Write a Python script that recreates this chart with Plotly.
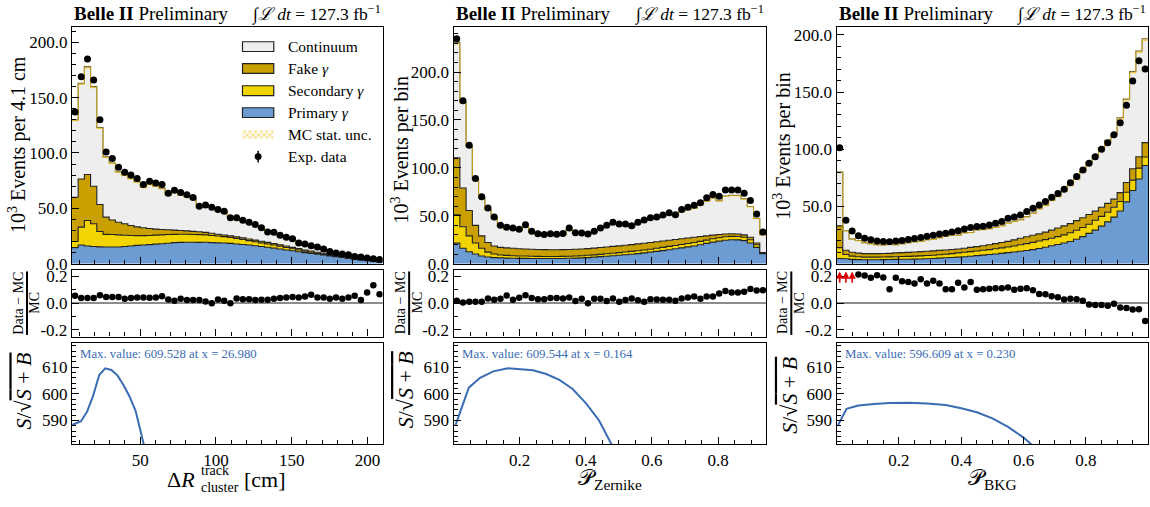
import numpy as np
import plotly.graph_objects as go

# ---------------------------------------------------------------------------
# Histogram contents, 10^3 events per bin (50 bins per variable)
# ---------------------------------------------------------------------------
# Delta R (track - cluster) [cm]
dr_range = [5.0, 210.0]
dr_primary = [14.5, 16.8, 16, 15.5, 15.2, 15, 15, 15, 15.5, 16,
              16.5, 16.8, 17.2, 17.6, 18, 18.5, 19, 19.2, 19.4, 19.4,
              19.2, 19.3, 19, 18.8, 18.6, 18.3, 17.8, 17.3, 16.8, 16.2,
              15.5, 14.8, 14, 13.2, 12.4, 11.6, 10.8, 10, 9.2, 8.5,
              7.8, 7.0, 6.2, 5.5, 4.8, 4.1, 3.4, 2.8, 2.2, 1.6]
dr_secondary = [5.5, 16.2, 23, 20.5, 13.8, 11.5, 11.3, 11, 10.1, 9.4,
                8.8, 8.5, 8.3, 8.2, 8, 7.8, 7.5, 7.4, 7.2, 7,
                7, 6.7, 6.5, 6.2, 5.8, 5.3, 4.9, 4.5, 4, 3.6,
                3.3, 3, 2.8, 2.5, 2.2, 1.9, 1.6, 1.3, 1.1, 0.8,
                0.6, 0.5, 0.4, 0.3, 0.2, 0.2, 0.2, 0.1, 0.1, 0.1]
dr_fake = [40, 43.5, 41.5, 34, 24.5, 15.5, 13.2, 11.4, 10.4, 9.1,
           7.9, 7.2, 6.3, 5.4, 4.8, 4.3, 3.8, 3.4, 3, 2.8,
           2.6, 2.3, 2, 1.6, 1.5, 1.5, 1.5, 1.5, 1.5, 1.5,
           1.5, 1.4, 1.4, 1.3, 1.3, 1.2, 1.2, 1.1, 1.1, 1.0,
           1.0, 0.9, 0.9, 0.8, 0.8, 0.7, 0.7, 0.6, 0.6, 0.5]
dr_continuum = [70, 86.5, 97.5, 90, 69.5, 54.5, 51.5, 45.6, 44, 42.5,
                40.8, 36.5, 39.9, 38.8, 37.2, 31.4, 34.9, 32.2, 31.3, 29.3,
                21.9, 24.1, 23.6, 21, 20.7, 16.5, 15.9, 14.8, 14, 13.2,
                11.3, 8.7, 9.2, 7.7, 7.1, 6.7, 4.3, 4.5, 3.9, 4.1,
                3.4, 2.2, 1.8, 1.9, 1.9, 1.2, 1.5, 1.1, 1.0, 1.4]
dr_data = [137, 169, 185, 166, 130, 101, 95, 87, 82.5, 80,
           77, 71.6, 74.5, 72.8, 71.6, 63.6, 66.3, 64.2, 62.2, 59.8,
           51.8, 53, 51, 48.9, 47.4, 41.5, 41.5, 39.2, 37.4, 35.3,
           32.4, 28.6, 28.3, 25.6, 23.9, 22.4, 18.6, 17.7, 16.2, 15,
           13.3, 10.9, 9.7, 8.8, 8, 6.5, 5.9, 5, 4.4, 3.8]
dr_ratio = [0.054, 0.037, 0.037, 0.037, 0.059, 0.046, 0.046, 0.046, 0.032, 0.037,
            0.041, 0.041, 0.039, 0.041, 0.051, 0.027, 0.017, 0.032, 0.022, 0.022,
            0.022, 0.012, -0.002, 0.027, 0.017, -0.002, 0.034, 0.029, 0.029, 0.022,
            0.024, 0.024, 0.032, 0.037, 0.041, 0.046, 0.041, 0.049, 0.061, 0.041,
            0.041, 0.032, 0.041, 0.032, 0.041, 0.054, 0.022, 0.078, 0.132, 0.066]
dr_fom_x = [5.0, 11.0, 15.0, 19.0, 23.0, 26.98, 31.0, 35.0, 39.0, 43.0, 47.0, 51.0, 55.0]
dr_fom_y = [588.3, 589.7, 593.3, 599.3, 607.0, 609.528, 608.9, 606.9, 603.3, 599.0, 593.6, 584.8, 575.0]

# Zernike-moment MVA output
zern_range = [0.0, 0.945]
zern_primary = [21.4, 16, 12.5, 10, 8, 7, 6.3, 6, 5.8, 5.6,
                5.5, 5.5, 5.4, 5.3, 5.3, 5.3, 5.3, 5.4, 5.6, 5.8,
                6, 6.3, 6.8, 7.3, 7.8, 8.3, 8.8, 9.3, 9.8, 10.5,
                11.2, 12, 12.8, 13.6, 14.5, 15.5, 16.5, 17.5, 18.5, 19.8,
                21.2, 22.5, 23.5, 24.5, 25, 24.8, 24, 21.5, 17, 10.5]
zern_secondary = [29.6, 22.5, 16.5, 11.5, 8, 5, 3.7, 3, 2.8, 2.7,
                  2.5, 2.5, 2.4, 2.3, 2.2, 2.2, 2.2, 2.2, 2.2, 2.2,
                  2.3, 2.4, 2.4, 2.4, 2.5, 2.6, 2.7, 2.8, 3.0, 3.0,
                  3.1, 3.1, 3.2, 3.4, 3.5, 3.5, 3.5, 3.5, 3.5, 3.4,
                  3.4, 3.5, 3.5, 3.5, 3.5, 3.5, 3.5, 3.5, 2.7, 0.5]
zern_fake = [59.5, 40.5, 26.5, 18.5, 13, 10, 8.5, 8, 7.9, 7.7,
             7.5, 7.3, 7.2, 7.2, 7.1, 7.0, 7.0, 7.0, 7.0, 7.0,
             7.0, 7.0, 7.0, 7.1, 7.1, 7.1, 7.1, 7.1, 7.1, 7.1,
             7.0, 6.9, 6.8, 6.6, 6.4, 6.2, 6.0, 5.8, 5.5, 5.1,
             4.4, 3.8, 3.4, 3.0, 2.7, 2.7, 2.5, 2.5, 1.8, 0.5]
zern_continuum = [120.3, 89.5, 66.8, 47.9, 40, 34.3, 29, 21.9, 19.6, 20.2,
                  19.1, 22.9, 17.5, 15.6, 14.8, 15.7, 15, 16, 20.8, 16.8,
                  15.7, 15.4, 16.5, 19.1, 22.1, 23.8, 22.5, 21.4, 18.3, 21.8,
                  23.8, 24.6, 24.5, 25.9, 27.5, 24.9, 28.6, 29.7, 30.6, 33.3,
                  36.5, 38.9, 35.3, 39.6, 40.1, 40.3, 37.7, 32.2, 25.8, 18.6]
zern_data = [234.7, 170, 123.5, 88.8, 69.7, 58.2, 48.6, 40.1, 38.1, 37.1,
             36, 40.5, 33.7, 31.3, 30.3, 31.3, 30.6, 31.6, 37.1, 32.3,
             32, 31, 33.7, 37.1, 40.1, 43.2, 41.5, 41.5, 39.5, 43.2,
             45.6, 48, 48.6, 50.7, 53.1, 51, 56.5, 58.8, 60.9, 63.6,
             68.7, 72.1, 70.4, 76.9, 76.9, 76.9, 73.5, 66, 51.7, 33]
zern_ratio = [0.017, 0.005, 0.01, 0.01, 0.01, 0.034, 0.024, 0.032, 0.056, 0.024,
              0.039, 0.059, 0.037, 0.029, 0.029, 0.037, 0.037, 0.034, 0.041, 0.015,
              0.032, -0.002, 0.032, 0.032, 0.015, 0.034, 0.01, 0.022, 0.034, 0.02,
              0.01, 0.029, 0.027, 0.024, 0.024, 0.017, 0.034, 0.041, 0.049, 0.032,
              0.049, 0.049, 0.071, 0.09, 0.078, 0.078, 0.085, 0.105, 0.093, 0.095]
zern_fom_x = [0.005, 0.046, 0.08, 0.12, 0.164, 0.2, 0.24, 0.28, 0.32, 0.36, 0.40, 0.44, 0.48]
zern_fom_y = [588.0, 602.3, 606.0, 608.4, 609.544, 609.3, 608.8, 607.4, 605.2, 601.8, 596.5, 590.0, 580.5]

# Background-classifier output
bkg_range = [0.0, 1.0]
bkg_primary = [4.5, 4.3, 3.7, 3.5, 3.4, 3.4, 3.4, 3.5, 3.6, 3.7,
               3.8, 3.9, 4.0, 4.1, 4.3, 4.5, 4.8, 5.1, 5.4, 5.7,
               6.1, 6.5, 7.0, 7.5, 8.0, 8.5, 9.0, 9.6, 10.2, 10.8,
               11.5, 12.3, 13.2, 14.3, 15.7, 16.8, 18.0, 19.4, 21.4, 23.6,
               26.5, 29.3, 32.8, 36.5, 40.7, 46, 54, 64, 74, 85.8]
bkg_secondary = [9.5, 3.7, 2.9, 2.5, 2.3, 2.3, 2.3, 2.3, 2.3, 2.3,
                 2.4, 2.5, 2.6, 2.7, 2.8, 2.9, 3.0, 3.1, 3.4, 3.7,
                 3.9, 4.0, 4.1, 4.2, 4.3, 4.5, 4.8, 5.0, 5.3, 5.7,
                 6.0, 6.3, 6.6, 6.7, 6.5, 6.8, 7.2, 7.6, 7.8, 8.0,
                 8.0, 8.6, 8.5, 8.5, 8.6, 8.4, 8.5, 9, 9.5, 7.5]
bkg_fake = [19, 3.7, 3.4, 3.2, 3.1, 3.1, 3.1, 3.1, 3.1, 3.4,
            3.4, 3.5, 3.6, 3.7, 3.7, 3.8, 3.8, 3.8, 3.6, 3.4,
            3.5, 3.7, 3.8, 4.0, 4.2, 4.5, 4.7, 4.9, 5.3, 5.7,
            6.0, 6.2, 6.2, 6.6, 7.1, 7.6, 7.8, 8.0, 8.4, 8.6,
            8.5, 8.0, 8.0, 7.7, 7.1, 7.7, 8.5, 10, 10, 12.5]
bkg_continuum = [47, 17.1, 11.7, 11, 9.6, 8.7, 7.7, 7.4, 8.3, 7.2,
                 7.8, 8.4, 8.9, 8.9, 10.1, 10.1, 11, 12, 12.6, 12.2,
                 13.6, 13.1, 14.6, 14.1, 14.1, 14.3, 14.7, 16, 16.2, 16.2,
                 17.6, 19.4, 22, 23.4, 26, 27.5, 30.3, 33.5, 36.4, 40.4,
                 45.6, 48.9, 52.2, 55.2, 57, 65.5, 72.9, 85, 92.5, 90.8]
bkg_data = [101.4, 37.9, 28.5, 24.5, 22.2, 20.8, 19.9, 19.4, 19.1, 19.7,
            20.2, 21.1, 21.9, 22.8, 23.9, 24.8, 25.9, 26.5, 27.6, 28.8,
            30.2, 31.6, 32.5, 32.8, 33.9, 35.3, 36.8, 39.6, 40.7, 42.5,
            45.6, 48.4, 51.3, 54.4, 58.1, 61.3, 65, 70.7, 76.1, 82,
            87.7, 93.4, 100, 105.7, 112.8, 123.3, 138.6, 159.8, 177.4, 170.3]
bkg_ratio = [0.27, 0.32, 0.31, 0.212, 0.205, 0.188, 0.207, 0.19, 0.102, 0.188,
             0.163, 0.156, 0.146, 0.178, 0.146, 0.166, 0.146, 0.102, 0.102, 0.151,
             0.115, 0.156, 0.1, 0.102, 0.107, 0.11, 0.11, 0.115, 0.1, 0.107,
             0.11, 0.095, 0.068, 0.066, 0.051, 0.044, 0.027, 0.032, 0.029, 0.017,
             -0.01, -0.015, -0.015, -0.02, -0.005, -0.034, -0.037, -0.049, -0.046, -0.134]
bkg_fom_x = [0.005, 0.032, 0.07, 0.12, 0.17, 0.23, 0.29, 0.35, 0.40, 0.45, 0.50, 0.55, 0.60, 0.64]
bkg_fom_y = [588.3, 594.4, 595.6, 596.2, 596.5, 596.609, 596.4, 595.8, 594.6, 593.1, 590.8, 587.6, 583.6, 579.5]

mc_rel_unc = 0.006          # relative MC statistical uncertainty band
lumi_text = "127.3"

# ---------------------------------------------------------------------------
# Styling
# ---------------------------------------------------------------------------
W, H = 1150, 507
FONT = "Liberation Serif"
C_CONT = "#eeeeee"
C_FAKE = "#c9a000"
C_SEC = "#f2d500"
C_PRIM = "#6d9cd2"
C_EDGE = "#222222"
C_UNC = "#e8b800"
C_FOM = "#3a6cb4"


def fx(px):
    return px / W


def fy(py):
    return 1 - py / H


# pixel geometry of the three columns and three rows
cols_px = [(72, 383), (454, 766.7), (837.3, 1149.3)]
rows_px = {"main": (26, 268), "ratio": (274, 342.7), "fom": (349.3, 452.7)}

panels = [
    dict(rng=dr_range, prim=dr_primary, sec=dr_secondary, fake=dr_fake, cont=dr_continuum,
         data=dr_data, ratio=dr_ratio, fx=dr_fom_x, fy=dr_fom_y, ymax=213.5,
         xt=dict(tickvals=[50, 100, 150, 200], minor=10),
         ylab="10<sup>3</sup> Events per 4.1 cm"),
    dict(rng=zern_range, prim=zern_primary, sec=zern_secondary, fake=zern_fake, cont=zern_continuum,
         data=zern_data, ratio=zern_ratio, fx=zern_fom_x, fy=zern_fom_y, ymax=246.6,
         xt=dict(tickvals=[0.2, 0.4, 0.6, 0.8], minor=0.05),
         ylab="10<sup>3</sup> Events per bin"),
    dict(rng=bkg_range, prim=bkg_primary, sec=bkg_secondary, fake=bkg_fake, cont=bkg_continuum,
         data=bkg_data, ratio=bkg_ratio, fx=bkg_fom_x, fy=bkg_fom_y, ymax=206.6,
         xt=dict(tickvals=[0.2, 0.4, 0.6, 0.8], minor=0.05),
         ylab="10<sup>3</sup> Events per bin"),
]

RATIO_RANGE = [-0.25, 0.25]
FOM_RANGE = [581.2, 619.0]

fig = go.Figure()
layout = {}
annotations = []
shapes = []

axis_common = dict(showline=True, mirror=True, linecolor="black", linewidth=1.3,
                   ticks="inside", ticklen=7, tickwidth=1.2, tickcolor="black",
                   showgrid=False, zeroline=False,
                   tickfont=dict(family=FONT, size=17, color="black"))


def ax_names(idx):
    sfx = "" if idx == 1 else str(idx)
    return "xaxis" + sfx, "yaxis" + sfx, "x" + sfx, "y" + sfx


for p, P in enumerate(panels):
    lo, hi = P["rng"]
    nb = len(P["data"])
    edges = np.linspace(lo, hi, nb + 1)
    centers = 0.5 * (edges[1:] + edges[:-1])
    x0p, x1p = cols_px[p]
    xdom = [fx(x0p), fx(x1p)]

    prim = np.array(P["prim"], float)
    sec = np.array(P["sec"], float)
    fake = np.array(P["fake"], float)
    cont = np.array(P["cont"], float)
    data = np.array(P["data"], float)
    ratio = np.array(P["ratio"], float)
    total = prim + sec + fake + cont
    data_err = np.sqrt(data * 1000.0) / 1000.0

    for r, row in enumerate(["main", "ratio", "fom"]):
        idx = 3 * p + r + 1
        xa, ya, xr, yr = ax_names(idx)
        t, b = rows_px[row]
        xaxis = dict(axis_common, domain=xdom, range=[lo, hi], anchor=yr,
                     tickvals=P["xt"]["tickvals"],
                     minor=dict(ticks="inside", ticklen=4, tickwidth=1, tickcolor="black",
                                dtick=P["xt"]["minor"], tick0=0),
                     showticklabels=(row == "fom"))
        xaxis["tickformat"] = "d" if p == 0 else ".1f"
        yaxis = dict(axis_common, domain=[fy(b), fy(t)], anchor=xr)
        if row == "main":
            yaxis.update(range=[0, P["ymax"]], tickvals=[0, 50, 100, 150, 200],
                         tickformat=".1f",
                         minor=dict(ticks="inside", ticklen=4, tickwidth=1, tickcolor="black",
                                    dtick=10, tick0=0))
        elif row == "ratio":
            yaxis.update(range=RATIO_RANGE, tickvals=[-0.2, 0.0, 0.2],
                         ticktext=["-0.2", "0.0", "0.2"],
                         minor=dict(ticks="inside", ticklen=4, tickwidth=1, tickcolor="black",
                                    dtick=0.1, tick0=0))
        else:
            yaxis.update(range=FOM_RANGE, tickvals=[590, 600, 610],
                         minor=dict(ticks="inside", ticklen=4, tickwidth=1, tickcolor="black",
                                    dtick=2, tick0=0))
        layout[xa] = xaxis
        layout[ya] = yaxis

    # ---- main panel: stacked step histograms ----
    _, _, xr, yr = ax_names(3 * p + 1)
    xs = list(edges)
    cum = np.zeros(nb)
    for k, (comp, col) in enumerate([(prim, C_PRIM), (sec, C_SEC), (fake, C_FAKE), (cont, C_CONT)]):
        cum = cum + comp
        ys = list(cum) + [cum[-1]]
        fig.add_trace(go.Scatter(
            x=xs, y=ys, mode="lines",
            line=dict(shape="hv", color=C_EDGE if k < 3 else "#555555", width=1.1),
            fill="tozeroy" if k == 0 else "tonexty", fillcolor=col,
            xaxis=xr, yaxis=yr, showlegend=False, hoverinfo="skip"))
    # MC statistical uncertainty band
    lo_band = total * (1 - mc_rel_unc)
    hi_band = total * (1 + mc_rel_unc)
    fig.add_trace(go.Scatter(x=xs, y=list(lo_band) + [lo_band[-1]], mode="lines",
                             line=dict(shape="hv", width=0.8, color=C_UNC),
                             xaxis=xr, yaxis=yr, showlegend=False, hoverinfo="skip"))
    fig.add_trace(go.Scatter(x=xs, y=list(hi_band) + [hi_band[-1]], mode="lines",
                             line=dict(shape="hv", width=0, color=C_UNC),
                             fill="tonexty", fillcolor="rgba(0,0,0,0)",
                             fillpattern=dict(shape="x", fgcolor=C_UNC, bgcolor="rgba(0,0,0,0)",
                                              size=3, solidity=0.5),
                             xaxis=xr, yaxis=yr, showlegend=False, hoverinfo="skip"))
    # data points
    fig.add_trace(go.Scatter(x=centers, y=data, mode="markers",
                             marker=dict(color="black", size=7),
                             error_y=dict(type="data", array=data_err, color="black",
                                          thickness=1.2, width=0),
                             xaxis=xr, yaxis=yr, showlegend=False, hoverinfo="skip"))

    # ---- ratio panel ----
    _, _, xr, yr = ax_names(3 * p + 2)
    shapes.append(dict(type="line", xref=xr + " domain", yref=yr, x0=0, x1=1, y0=0, y1=0,
                       line=dict(color="#8c8c8c", width=2), layer="below"))
    inside = ratio <= RATIO_RANGE[1]
    r_err = data_err / total
    fig.add_trace(go.Scatter(x=centers[inside], y=ratio[inside], mode="markers",
                             marker=dict(color="black", size=6.5),
                             error_y=dict(type="data", array=r_err[inside], color="black",
                                          thickness=1.2, width=0),
                             xaxis=xr, yaxis=yr, showlegend=False, hoverinfo="skip"))
    # values beyond the upper edge are flagged with arrows
    for c in centers[~inside]:
        annotations.append(dict(x=c, y=0.235, ax=c, ay=0.14, xref=xr, yref=yr,
                                axref=xr, ayref=yr, text="", showarrow=True,
                                arrowhead=2, arrowsize=0.9, arrowwidth=1.6,
                                arrowcolor="#dd0000"))

    # ---- figure of merit panel ----
    _, _, xr, yr = ax_names(3 * p + 3)
    fig.add_trace(go.Scatter(x=P["fx"], y=P["fy"], mode="lines",
                             line=dict(color=C_FOM, width=2),
                             xaxis=xr, yaxis=yr, showlegend=False, hoverinfo="skip"))
    imax = int(np.argmax(P["fy"]))
    annotations.append(dict(
        x=fx(x0p + 6), y=fy(360.7), xref="paper", yref="paper", xanchor="left", yanchor="middle",
        text="Max. value: %.3f at x = %.3f" % (P["fy"][imax], P["fx"][imax]),
        showarrow=False, font=dict(family=FONT, size=12.8, color=C_FOM)))

    # ---- headers ----
    annotations.append(dict(x=fx(x0p), y=fy(12), xref="paper", yref="paper", xanchor="left",
                            yanchor="middle", text="<b>Belle II</b> Preliminary", showarrow=False,
                            font=dict(family=FONT, size=19, color="black")))
    annotations.append(dict(x=fx(x1p), y=fy(12), xref="paper", yref="paper", xanchor="right",
                            yanchor="middle",
                            text="\u222b<i>\u2112 dt</i> = " + lumi_text + " fb<sup>\u22121</sup>",
                            showarrow=False, font=dict(family=FONT, size=17.5, color="black")))

# ---- axis titles ----
ylab_pos = [(17.5, 146), (400.5, 151), (783, 147)]
ratio_pos = [(19, 27, 35), (401, 409.5, 418), (783, 792, 800)]
fom_pos = [(24, 398), (406, 397), (790, 403)]
for p, P in enumerate(panels):
    xp, yp = ylab_pos[p]
    annotations.append(dict(x=fx(xp), y=fy(yp), xref="paper", yref="paper", textangle=-90,
                            xanchor="center", yanchor="middle", text=P["ylab"], showarrow=False,
                            font=dict(family=FONT, size=20, color="black")))
    a, bar, c = ratio_pos[p]
    annotations.append(dict(x=fx(a), y=fy(308), xref="paper", yref="paper", textangle=-90,
                            xanchor="center", yanchor="middle", text="Data \u2212 MC",
                            showarrow=False, font=dict(family=FONT, size=14, color="black")))
    annotations.append(dict(x=fx(c), y=fy(308), xref="paper", yref="paper", textangle=-90,
                            xanchor="center", yanchor="middle", text="MC",
                            showarrow=False, font=dict(family=FONT, size=14, color="black")))
    shapes.append(dict(type="line", xref="paper", yref="paper", x0=fx(bar), x1=fx(bar),
                       y0=fy(276), y1=fy(341), line=dict(color="black", width=2)))
    xq, yq = fom_pos[p]
    annotations.append(dict(x=fx(xq), y=fy(yq), xref="paper", yref="paper", textangle=-90,
                            xanchor="center", yanchor="middle",
                            text="<i>S</i>/\u221a<span style='text-decoration:overline'><i>S</i> + <i>B</i></span>",
                            showarrow=False, font=dict(family=FONT, size=22, color="black")))

# x-axis titles
annotations.append(dict(x=fx(197), y=fy(489), xref="paper", yref="paper", xanchor="right",
                        yanchor="middle", text="\u0394<i>R</i>", showarrow=False,
                        font=dict(family=FONT, size=22, color="black")))
annotations.append(dict(x=fx(199), y=fy(480), xref="paper", yref="paper", xanchor="left",
                        yanchor="middle", text="track", showarrow=False,
                        font=dict(family=FONT, size=14, color="black")))
annotations.append(dict(x=fx(199), y=fy(497), xref="paper", yref="paper", xanchor="left",
                        yanchor="middle", text="cluster", showarrow=False,
                        font=dict(family=FONT, size=14, color="black")))
annotations.append(dict(x=fx(242), y=fy(489), xref="paper", yref="paper", xanchor="left",
                        yanchor="middle", text="[cm]", showarrow=False,
                        font=dict(family=FONT, size=22, color="black")))
for p, sub in [(1, "Zernike"), (2, "BKG")]:
    x0p, x1p = cols_px[p]
    annotations.append(dict(x=fx(0.5 * (x0p + x1p)), y=fy(489), xref="paper", yref="paper",
                            xanchor="center", yanchor="middle",
                            text="\U0001D4AB<sub>" + sub + "</sub>", showarrow=False,
                            font=dict(family=FONT, size=22, color="black")))

# ---- legend (first panel) ----
leg_items = [("Continuum", C_CONT), ("Fake <i>\u03b3</i>", C_FAKE),
             ("Secondary <i>\u03b3</i>", C_SEC), ("Primary <i>\u03b3</i>", C_PRIM)]
leg_x0, leg_x1 = 242.7, 274.0
leg_rows = [45.7, 68.2, 90.8, 113.3, 135.8, 158.3]
for (label, col), yc in zip(leg_items, leg_rows):
    shapes.append(dict(type="rect", xref="paper", yref="paper", x0=fx(leg_x0), x1=fx(leg_x1),
                       y0=fy(yc + 5), y1=fy(yc - 5), fillcolor=col,
                       line=dict(color=C_EDGE, width=1.2)))
for label, yc in zip([it[0] for it in leg_items] + ["MC stat. unc.", "Exp. data"], leg_rows):
    annotations.append(dict(x=fx(286), y=fy(yc), xref="paper", yref="paper", xanchor="left",
                            yanchor="middle", text=label, showarrow=False,
                            font=dict(family=FONT, size=15.5, color="black")))
# hatched swatch for the MC uncertainty, drawn in the first panel's data frame
lo, hi = dr_range
ymax0 = panels[0]["ymax"]


def to_dx(px):
    return lo + (px - cols_px[0][0]) / (cols_px[0][1] - cols_px[0][0]) * (hi - lo)


def to_dy(py):
    t, b = rows_px["main"]
    return (b - py) / (b - t) * ymax0


yc = leg_rows[4]
fig.add_trace(go.Scatter(
    x=[to_dx(leg_x0), to_dx(leg_x1), to_dx(leg_x1), to_dx(leg_x0), to_dx(leg_x0)],
    y=[to_dy(yc + 4.5), to_dy(yc + 4.5), to_dy(yc - 4.5), to_dy(yc - 4.5), to_dy(yc + 4.5)],
    mode="lines", line=dict(width=0), fill="toself", fillcolor="rgba(0,0,0,0)",
    fillpattern=dict(shape="x", fgcolor=C_UNC, bgcolor="white", size=4, solidity=0.45),
    xaxis="x", yaxis="y", showlegend=False, hoverinfo="skip"))
# data marker swatch
yc = leg_rows[5]
xm = 0.5 * (leg_x0 + leg_x1)
shapes.append(dict(type="line", xref="paper", yref="paper", x0=fx(xm), x1=fx(xm),
                   y0=fy(yc + 6), y1=fy(yc - 6), line=dict(color="black", width=1.5)))
shapes.append(dict(type="circle", xref="paper", yref="paper", x0=fx(xm - 3.5), x1=fx(xm + 3.5),
                   y0=fy(yc + 3.5), y1=fy(yc - 3.5), fillcolor="black",
                   line=dict(color="black", width=0)))

layout.update(dict(
    width=W, height=H, margin=dict(l=0, r=0, t=0, b=0),
    paper_bgcolor="white", plot_bgcolor="white",
    font=dict(family=FONT, color="black"),
    annotations=annotations, shapes=shapes, showlegend=False,
))
fig.update_layout(**layout)
fig.write_html("out.html")
